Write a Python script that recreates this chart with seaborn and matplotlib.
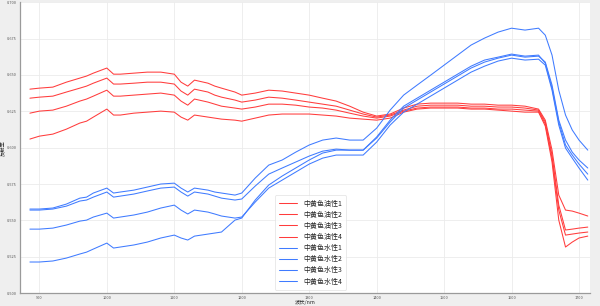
import numpy as np
import pandas as pd
import matplotlib
matplotlib.use("Agg")
import matplotlib.pyplot as plt
import seaborn as sns

wavelength = [886, 900, 920, 940, 960, 970, 980, 1000, 1010, 1020, 1040, 1060, 1080, 1100,
              1110, 1120, 1130, 1150, 1160, 1170, 1190, 1200, 1220, 1240, 1260, 1280, 1300,
              1320, 1340, 1360, 1380, 1400, 1420, 1440, 1460, 1480, 1500, 1520, 1540, 1560,
              1580, 1600, 1620, 1640, 1650, 1660, 1670, 1680, 1690, 1700, 1713]

# values as pixel rows -> converted below to reflectance
oily1_px = [89, 88, 87, 82, 78, 76, 73, 68, 74, 74, 73, 72, 72, 74, 82, 86, 80, 83, 86, 88, 92, 95, 93, 90, 91, 93, 95, 98, 101, 106, 112, 116, 114, 108, 104, 103, 103, 103, 104, 104, 105, 105, 106, 109, 120, 150, 195, 210, 211, 213, 216]
oily2_px = [98, 97, 96, 92, 88, 86, 83, 78, 84, 84, 83, 82, 82, 84, 91, 95, 89, 92, 95, 97, 100, 102, 100, 97, 98, 100, 102, 104, 106, 110, 114, 117, 115, 110, 106, 105, 105, 105, 106, 106, 107, 107, 108, 110, 122, 155, 205, 230, 229, 228, 227]
oily3_px = [113, 111, 110, 106, 101, 99, 96, 90, 96, 96, 95, 94, 93, 95, 101, 105, 99, 102, 104, 106, 108, 109, 107, 104, 104, 105, 107, 108, 110, 113, 116, 118, 116, 111, 108, 107, 107, 107, 108, 108, 109, 109, 110, 111, 124, 158, 210, 235, 234, 233, 232]
oily4_px = [139, 136, 134, 129, 123, 121, 117, 109, 115, 115, 113, 112, 111, 112, 117, 120, 115, 117, 118, 119, 120, 121, 118, 115, 114, 114, 114, 115, 116, 118, 119, 120, 118, 112, 109, 108, 108, 108, 109, 109, 110, 111, 112, 112, 126, 162, 220, 247, 242, 238, 236]
water1_px = [209, 209, 208, 204, 198, 197, 193, 188, 193, 192, 190, 187, 184, 183, 188, 192, 188, 190, 192, 193, 195, 193, 178, 165, 160, 152, 145, 140, 138, 140, 140, 128, 110, 95, 85, 75, 65, 55, 45, 38, 32, 28, 30, 28, 35, 55, 90, 115, 130, 140, 150]
water2_px = [210, 210, 209, 206, 201, 200, 197, 192, 197, 196, 194, 191, 188, 187, 192, 196, 192, 194, 196, 198, 200, 199, 186, 174, 168, 162, 156, 151, 149, 150, 150, 138, 122, 108, 100, 92, 84, 76, 68, 62, 58, 55, 57, 56, 62, 85, 120, 140, 152, 160, 168]
water3_px = [229, 229, 228, 225, 221, 220, 217, 213, 218, 217, 215, 212, 208, 205, 210, 214, 210, 212, 214, 216, 218, 217, 202, 188, 180, 172, 164, 158, 155, 155, 155, 142, 125, 112, 104, 96, 88, 80, 72, 66, 61, 58, 60, 59, 65, 90, 125, 148, 158, 168, 180]
water4_px = [262, 262, 261, 258, 254, 252, 249, 243, 248, 247, 245, 242, 238, 235, 238, 240, 236, 234, 233, 232, 220, 218, 200, 185, 176, 168, 160, 153, 150, 150, 150, 137, 120, 106, 98, 90, 82, 74, 66, 60, 57, 54, 56, 55, 63, 88, 122, 145, 155, 164, 174]

labels = ["中黄色油性1", "中黄色油性2", "中黄色油性3", "中黄色油性4",
          "中黄色水性1", "中黄色水性2", "中黄色水性3", "中黄色水性4"]
series_px = [oily1_px, oily2_px, oily3_px, oily4_px, water1_px, water2_px, water3_px, water4_px]

def px_to_val(p):
    return [round(0.70137 - v * 0.000687, 4) for v in p]

rows = []
for lab, px in zip(labels, series_px):
    for w, v in zip(wavelength, px_to_val(px)):
        rows.append({"wl": w, "r": v, "s": lab})
df = pd.DataFrame(rows)

sns.set_theme(style="whitegrid")
plt.rcParams['font.family'] = ['Noto Sans CJK SC', 'DejaVu Sans']

palette = {l: ("#ff3c3c" if "油" in l else "#3f7bff") for l in labels}

fig = plt.figure(figsize=(6.0, 3.06), dpi=100, facecolor="#efefef")
ax = fig.add_axes([0.033, 0.042, 0.950, 0.951])
ax.set_facecolor("white")
sns.lineplot(data=df, x="wl", y="r", hue="s", palette=palette, linewidth=0.75,
             ax=ax, legend=True, sort=False)
ax.set_xlim(871, 1716)
ax.set_ylim(0.5, 0.7)
ax.set_xticks([900, 1000, 1100, 1200, 1300, 1400, 1500, 1600, 1700])
ax.set_yticks([0.5, 0.525, 0.55, 0.575, 0.6, 0.625, 0.65, 0.675, 0.7])
ax.set_yticklabels(["0.500", "0.525", "0.550", "0.575", "0.600", "0.625", "0.650", "0.675", "0.700"])
ax.tick_params(labelsize=2.8, colors="#555555", length=1.5, pad=0.6, width=0.5)
ax.grid(True, color="#ebebeb", linewidth=0.6)
for side in ["top", "right"]:
    ax.spines[side].set_visible(False)
for side in ["left", "bottom"]:
    ax.spines[side].set_color("#9a9a9a")
    ax.spines[side].set_linewidth(0.9)
ax.set_xlabel("波长/nm", fontsize=3.8, labelpad=0.5)
ax.set_ylabel("反射率", fontsize=3.8, labelpad=0.5)
ax.xaxis.set_label_coords(0.5, -0.025)
ax.yaxis.set_label_coords(-0.024, 0.5)
leg = ax.legend(loc="lower center", bbox_to_anchor=(0.51, 0.012), fontsize=5, frameon=True,
                handlelength=2.6, handletextpad=0.9, borderpad=0.6, labelspacing=0.45,
                borderaxespad=0, fancybox=True)
leg.get_frame().set_edgecolor("#e0e0e0")
leg.get_frame().set_linewidth(0.6)
fig.savefig("out.png", dpi=100, facecolor=fig.get_facecolor())
